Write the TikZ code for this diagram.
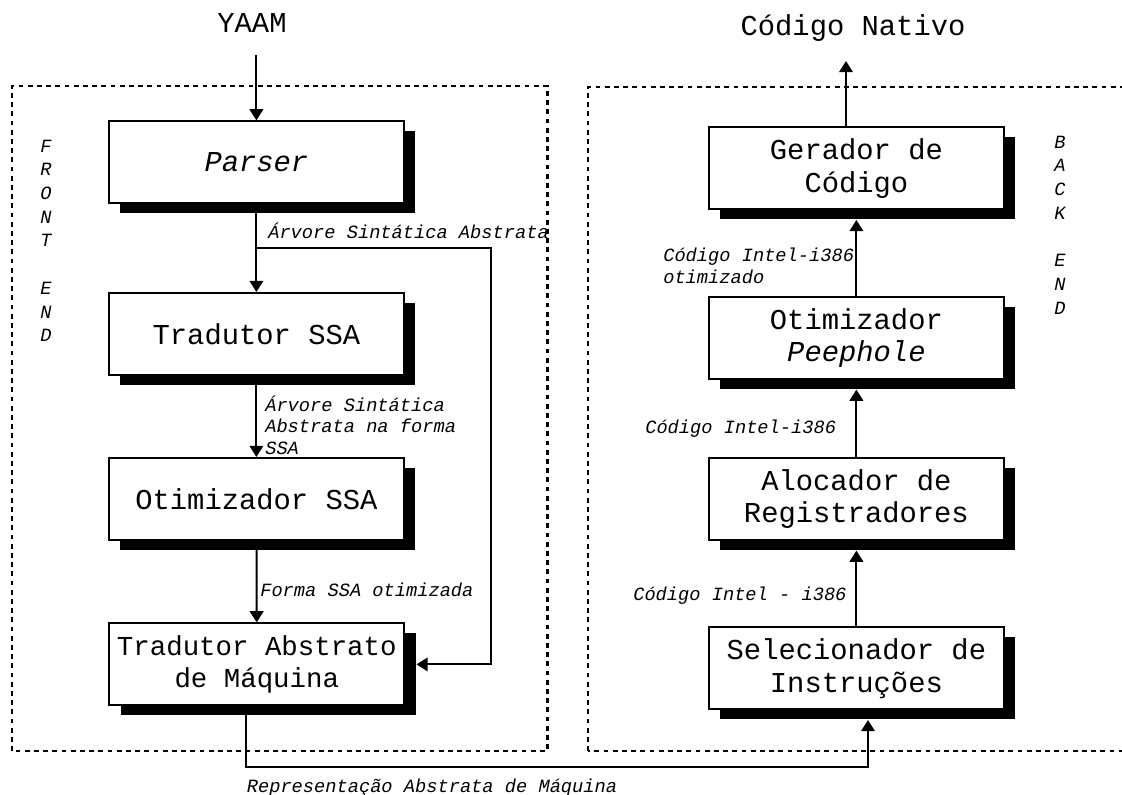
\documentclass[tikz,border=0pt]{standalone}
\usepackage{fontspec}
\setmainfont{Liberation Mono}
\usetikzlibrary{arrows.meta,shadows}

\newcommand{\boxfont}{\fontsize{20.5}{23.4}\selectfont}
\newcommand{\lblfont}{\fontsize{13.3}{15.3}\selectfont\itshape}

\tikzset{
  stage/.style={draw, line width=0.05cm, fill=white, inner xsep=2pt,
    minimum width=7.375cm, minimum height=2.05cm, align=center, font=\boxfont,
    drop shadow={shadow xshift=0.28cm, shadow yshift=-0.24cm, fill=black, opacity=1}},
  flow/.style={line width=0.05cm, -{Triangle[length=0.28cm,width=0.34cm]}},
  toshadow/.style={shorten >=0.24cm},
  endbox/.style={line width=0.07cm, dash pattern=on 0.12cm off 0.11cm},
  lbl/.style={font=\lblfont, align=left, inner sep=0pt},
}

\begin{document}
\begin{tikzpicture}
  \useasboundingbox (0,0) rectangle (28.05,19.85);

  \draw[endbox] (0.3,1.075) rectangle (13.68,17.7);
  \draw[endbox] (14.7,1.075) rectangle (28.6,17.675);

  \foreach \c [count=\i] in {F,R,O,N,T,{},E,N,D}
    \node[lbl] (front\i) at (1.15,{16.7925-0.5925*\i}) {\c};
  \foreach \c [count=\i] in {B,A,C,K,{},E,N,D}
    \node[lbl] (back\i) at (26.5,{16.8925-0.5925*\i}) {\c};

  \node[font=\boxfont] (yaam) at (6.3,19.275) {YAAM};
  \node[font=\boxfont] (nativo) at (21.325,19.15) {Código Nativo};

  \node[stage] (parser) at (6.41,15.79) {\itshape Parser};
  \node[stage] (tssa) at (6.41,11.5) {Tradutor SSA};
  \node[stage] (ossa) at (6.41,7.375) {Otimizador SSA};
  \node[stage, font=\fontsize{19.5}{22.5}\selectfont] (tam) at (6.42,3.24) {Tradutor Abstrato\\de Máquina};

  \node[stage] (gerador) at (21.41,15.64) {Gerador de\\Código};
  \node[stage] (peep) at (21.41,11.4) {Otimizador\\\textit{Peephole}};
  \node[stage] (aloc) at (21.41,7.375) {Alocador de\\Registradores};
  \node[stage] (sel) at (21.41,3.14) {Selecionador de\\Instruções};

  \node[lbl, anchor=west] (lblast) at (6.7,14.075) {Árvore Sintática Abstrata};
  \node[lbl, anchor=west] (lblssa) at (6.625,9.225) {Árvore Sintática\\Abstrata na forma\\SSA};
  \node[lbl, anchor=west] (lblopt) at (6.5,5.1) {Forma SSA otimizada};
  \node[lbl, anchor=west] (lblotm) at (16.575,13.21) {Código Intel-i386\\otimizado};
  \node[lbl, anchor=west] (lbli386) at (16.125,9.125) {Código Intel-i386};
  \node[lbl, anchor=west] (lblsel) at (15.825,4.95) {Código Intel - i386};
  \node[lbl, anchor=base] (lblrep) at (10.8,0.05) {Representação Abstrata de Máquina};

  \coordinate (yaamin) at (6.41,18.475);
  \coordinate (split) at (6.41,13.65);
  \coordinate (loop) at (12.275,13.65);
  \coordinate (low) at (12,0.675);
  \coordinate (natout) at (21.15,18.325);

  \draw[flow] (yaamin) -- (parser);
  \draw[flow] (parser) -- (tssa);
  \draw[flow] (split) -- (loop) |- ([xshift=0.28cm]tam.east);
  \draw[flow] (tssa) -- (ossa);
  \draw[flow] (ossa) -- (tam);
  \draw[flow,toshadow] ([xshift=-0.27cm]tam.south) |- (low) -| ([xshift=0.29cm]sel.south);
  \draw[flow,toshadow] (sel) -- (aloc);
  \draw[flow,toshadow] (aloc) -- (peep);
  \draw[flow,toshadow] (peep) -- (gerador);
  \draw[flow] (natout |- gerador.north) -- (natout);
\end{tikzpicture}
\end{document}
